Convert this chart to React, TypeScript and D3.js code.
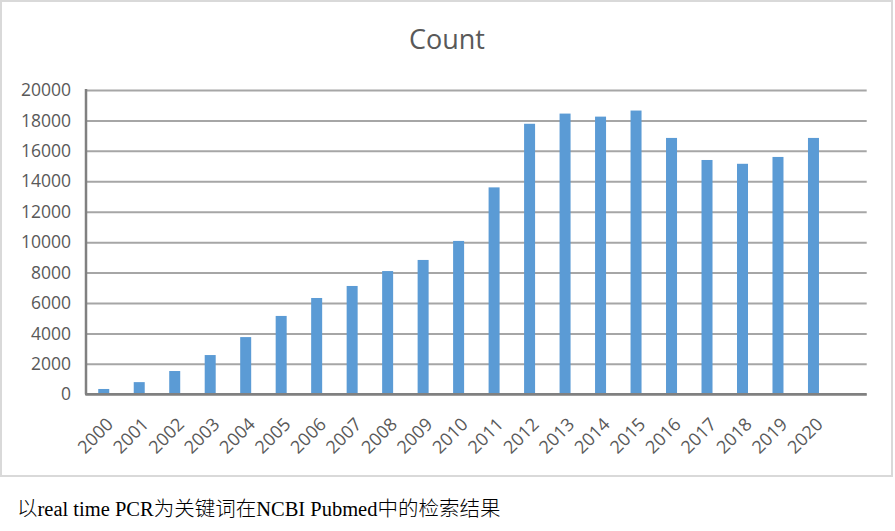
import * as d3 from "d3";
import React, { useRef, useEffect } from "react";

const years = [
  "2000", "2001", "2002", "2003", "2004", "2005", "2006", "2007", "2008", "2009", "2010",
  "2011", "2012", "2013", "2014", "2015", "2016", "2017", "2018", "2019", "2020",
];
const counts = [
  350, 800, 1530, 2580, 3760, 5150, 6330, 7120, 8100, 8830, 10080,
  13600, 17780, 18450, 18250, 18650, 16850, 15400, 15150, 15600, 16850,
];
const yTicks = [0, 2000, 4000, 6000, 8000, 10000, 12000, 14000, 16000, 18000, 20000];
const chartTitle = "Count";
const caption = "以real time PCR为关键词在NCBI Pubmed中的检索结果";

const width = 895;
const height = 531;
// plot box, Excel style: one empty slot is left after the last year
const margin = { top: 90, left: 86, bottom: 394.3, right: 866.7 };
const slots = years.length + 1;

export default function App() {
  const ref = useRef(null);

  useEffect(() => {
    const svg = d3.select(ref.current);
    svg.selectAll("*").remove();

    const step = (margin.right - margin.left) / slots;
    const x = d3
      .scaleBand()
      .domain(years)
      .range([margin.left, margin.left + step * years.length])
      .paddingInner(0.69)
      .paddingOuter(0.345);

    const y = d3.scaleLinear().domain([0, 20000]).range([margin.bottom, margin.top]);

    // chart frame
    svg
      .append("rect")
      .attr("x", 1)
      .attr("y", 1)
      .attr("width", 891)
      .attr("height", 475)
      .attr("fill", "white")
      .attr("stroke", "#d9d9d9")
      .attr("stroke-width", 2);

    // title
    svg
      .append("text")
      .attr("x", 447)
      .attr("y", 49)
      .attr("text-anchor", "middle")
      .style("font-family", "'Open Sans', sans-serif")
      .style("font-size", "27px")
      .attr("fill", "#595959")
      .text(chartTitle);

    // gridlines + y labels
    const yAxis = svg
      .append("g")
      .attr("transform", `translate(${margin.left},0)`)
      .call(
        d3
          .axisLeft(y)
          .tickValues(yTicks)
          .tickSize(-(margin.right - margin.left))
          .tickPadding(15)
          .tickFormat((d: any) => String(d))
      );
    yAxis.select(".domain").remove();
    yAxis
      .selectAll(".tick line")
      .attr("stroke", "#a6a6a6")
      .attr("stroke-width", 2);
    yAxis
      .selectAll(".tick text")
      .attr("fill", "#595959")
      .style("font-family", "'Open Sans', sans-serif")
      .style("font-size", "17.5px");

    // axis lines
    svg
      .append("line")
      .attr("x1", margin.left)
      .attr("x2", margin.left)
      .attr("y1", margin.top - 1)
      .attr("y2", margin.bottom)
      .attr("stroke", "#808080")
      .attr("stroke-width", 2.5);

    // bars
    svg
      .append("g")
      .attr("fill", "#5b9bd5")
      .selectAll("rect")
      .data(years)
      .join("rect")
      .attr("x", (d: string) => x(d) as number)
      .attr("y", (d: string, i: number) => y(counts[i]))
      .attr("width", x.bandwidth())
      .attr("height", (d: string, i: number) => margin.bottom - y(counts[i]));

    svg
      .append("line")
      .attr("x1", margin.left - 1)
      .attr("x2", margin.right)
      .attr("y1", margin.bottom)
      .attr("y2", margin.bottom)
      .attr("stroke", "#808080")
      .attr("stroke-width", 2.5);

    // rotated year labels
    svg
      .append("g")
      .selectAll("text")
      .data(years)
      .join("text")
      .attr(
        "transform",
        (d: string) => `translate(${(x(d) as number) + x.bandwidth() / 2 + 1},416) rotate(-45)`
      )
      .attr("text-anchor", "end")
      .attr("dy", "0.75em")
      .attr("fill", "#595959")
      .style("font-family", "'Open Sans', sans-serif")
      .style("font-size", "18px")
      .text((d: string) => d);

    // caption under the figure
    svg
      .append("text")
      .attr("x", 17)
      .attr("y", 516)
      .attr("fill", "#000")
      .style("font-family", "'Liberation Serif', 'Noto Sans CJK SC', serif")
      .style("font-size", "20.5px")
      .style("font-weight", 300)
      .text(caption);
  }, []);

  return (
    <svg
      ref={ref}
      width={width}
      height={height}
      viewBox={`0 0 ${width} ${height}`}
      style={{ position: "absolute", left: 0, top: 0, background: "white" }}
    />
  );
}
